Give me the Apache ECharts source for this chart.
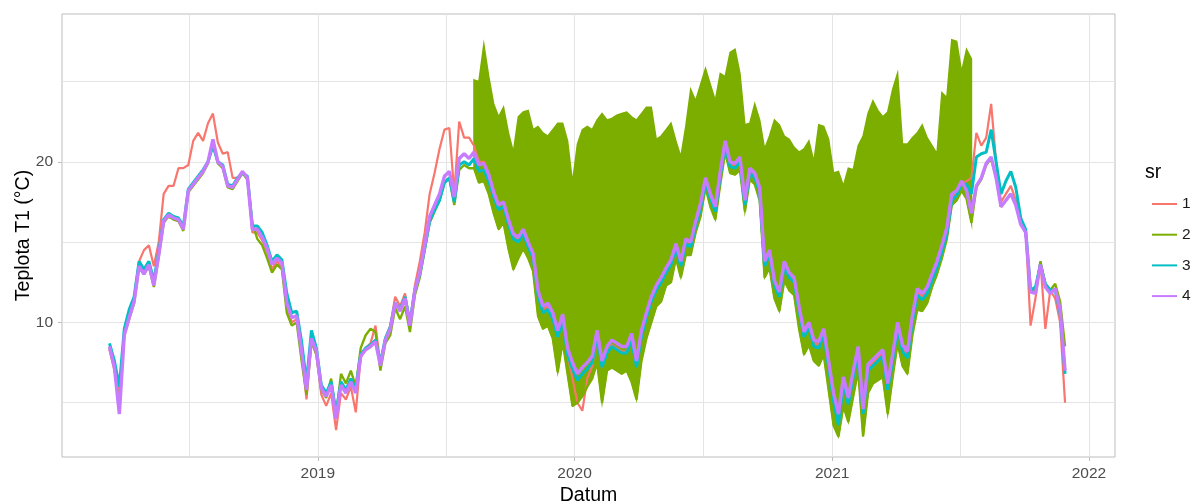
<!DOCTYPE html>
<html><head><meta charset="utf-8">
<script src="https://cdn.jsdelivr.net/npm/echarts@6/dist/echarts.min.js"></script>
<style>html,body{margin:0;padding:0;background:#fff}#c{width:1198px;height:504px}</style>
</head><body><div id="c"></div>
<script>
// weekly readings starting at this date
const startDate = '2018-03-11';
const stepDays = 7;

const s1 = [8.3,7.0,5.5,9.4,10.5,11.5,13.8,14.5,14.8,13.5,
15.0,18.0,18.5,18.5,19.6,19.6,19.8,21.3,21.8,21.3,
22.4,23.0,21.2,20.5,20.6,19.0,19.0,19.4,19.0,15.6,
15.6,15.1,14.4,13.3,13.8,13.4,11.0,10.0,10.2,8.0,
5.2,8.8,8.0,5.5,4.8,5.6,3.3,5.6,5.2,6.0,
4.4,7.8,8.4,8.7,9.8,7.4,9.0,9.8,11.6,11.0,
11.8,10.0,12.3,13.8,15.6,18.0,19.3,20.8,22.0,22.1,
18.0,22.5,21.5,21.5,21.0,20.0,20.0,19.3,18.2,17.4,
17.5,16.3,15.4,15.2,15.7,14.9,14.2,11.8,10.8,11.0,
10.3,9.2,10.2,8.0,6.5,5.0,4.5,6.5,7.3,9.0,
7.2,8.2,8.6,8.4,8.2,8.2,9.0,7.3,9.3,10.4,
11.5,12.2,12.7,13.3,13.8,14.8,13.7,15.1,14.9,16.2,
17.3,18.9,17.9,17.1,19.3,21.2,19.9,19.8,20.2,17.5,
19.5,19.2,18.3,13.7,14.4,12.5,11.8,13.7,12.9,12.6,
10.8,9.2,9.9,8.7,8.6,9.4,7.4,5.4,4.1,6.4,
5.1,6.8,8.3,4.4,7.2,7.5,7.8,8.1,6.0,7.8,
9.8,8.4,8.0,10.2,11.9,11.6,12.0,12.8,13.6,14.6,
15.7,17.8,18.0,18.6,18.8,19.0,21.8,21.0,21.5,23.6,
20.0,17.5,18.0,18.5,17.6,16.3,15.8,9.8,11.5,13.8,
9.6,12.0,11.5,10.0,5.0];

const s2 = [8.4,7.2,4.6,9.2,10.2,11.2,13.4,13.0,13.5,12.2,
14.1,16.2,16.6,16.4,16.3,15.7,18.1,18.5,18.9,19.3,
19.9,21.2,19.9,19.6,18.4,18.3,18.8,19.3,18.9,16.2,
15.2,14.8,14.0,13.1,13.6,13.3,10.6,9.8,10.0,7.6,
5.5,8.8,8.0,5.8,5.3,6.5,4.2,6.8,6.2,7.0,
6.0,8.4,9.2,9.6,9.4,7.0,8.7,9.2,10.9,10.2,
11.0,9.4,11.7,12.8,14.5,16.2,16.9,17.6,18.7,19.0,
17.3,19.5,19.8,19.6,19.6,18.7,18.8,18.0,16.8,15.8,
16.2,14.6,13.3,14.0,14.6,14.0,13.2,10.4,9.6,9.8,
9.0,6.9,8.8,6.8,4.8,5.0,5.4,6.0,6.5,7.5,
5.0,7.0,7.2,7.0,6.8,7.0,6.3,5.2,7.6,9.0,
10.0,11.0,11.3,12.3,12.5,14.0,12.8,14.2,14.2,15.6,
16.6,18.4,17.2,16.4,18.6,20.6,19.3,19.2,19.5,16.9,
18.9,18.6,17.6,12.8,13.4,11.5,10.7,12.6,12.0,11.7,
9.6,8.0,8.6,7.6,7.3,8.0,5.8,3.6,2.9,4.8,
3.8,5.4,7.0,2.9,5.6,6.2,6.4,6.6,4.3,6.6,
8.7,7.3,6.8,9.2,10.8,10.7,11.2,12.2,13.0,14.0,
15.2,17.3,17.6,18.2,17.7,16.2,18.4,18.9,19.8,20.2,
19.0,17.2,17.6,18.0,17.3,16.2,15.6,12.0,12.0,13.8,
12.4,12.0,12.4,11.3,8.5];

const s3 = [8.7,7.6,6.0,9.6,10.8,11.6,13.8,13.3,13.8,12.6,
14.4,16.4,16.8,16.6,16.5,16.0,18.3,18.7,19.1,19.5,
20.0,21.0,20.0,19.8,18.6,18.5,19.0,19.3,19.1,16.0,
16.0,15.6,14.8,13.8,14.2,13.9,11.8,10.6,10.7,8.8,
6.3,9.5,8.4,6.1,5.6,6.3,4.4,6.3,5.8,6.5,
5.9,8.0,8.4,8.6,8.9,7.5,9.0,9.7,11.2,10.8,
11.6,10.0,12.0,13.0,14.6,16.3,17.0,17.6,18.7,19.0,
17.5,19.8,20.0,19.8,20.2,19.4,19.5,18.8,17.8,17.0,
17.2,16.1,15.2,15.0,15.5,14.7,14.0,11.7,10.6,10.8,
10.2,9.1,10.1,8.0,7.1,6.4,6.8,7.1,7.5,9.1,
7.2,8.1,8.5,8.3,8.1,8.1,8.9,7.2,9.1,10.3,
11.3,12.0,12.5,13.1,13.6,14.6,13.5,14.9,14.7,16.0,
17.1,18.7,17.7,16.9,19.1,21.0,19.7,19.6,20.0,17.3,
19.3,19.0,18.1,13.5,14.2,12.3,11.6,13.5,12.8,12.5,
10.7,9.1,9.7,8.5,8.4,9.2,7.2,5.1,3.6,6.2,
4.9,6.6,8.1,4.3,7.0,7.3,7.6,7.9,5.8,7.6,
9.6,8.2,7.8,10.0,11.7,11.4,11.8,12.6,13.4,14.4,
15.5,17.6,17.9,18.6,18.6,18.0,20.3,20.5,20.6,22.0,
20.0,18.0,18.8,19.4,18.4,16.5,15.8,12.0,12.2,13.6,
12.4,12.0,12.0,10.6,6.8];

const s4 = [8.5,7.2,4.3,9.2,10.3,11.3,13.5,13.0,13.6,12.3,
14.2,16.3,16.7,16.5,16.4,15.8,18.2,18.6,19.0,19.4,
20.0,21.4,20.0,19.7,18.5,18.4,18.9,19.4,19.0,15.8,
15.8,15.3,14.6,13.6,14.0,13.7,11.2,10.3,10.4,8.2,
5.8,9.0,8.2,5.9,5.4,6.1,4.0,6.1,5.6,6.3,
5.6,7.9,8.3,8.5,8.8,7.3,8.9,9.6,11.2,10.7,
11.5,9.8,12.0,13.1,14.8,16.6,17.3,18.0,19.1,19.4,
17.8,20.2,20.5,20.2,20.6,19.8,19.9,19.2,18.1,17.3,
17.5,16.4,15.5,15.3,15.8,15.0,14.3,12.0,11.0,11.2,
10.6,9.5,10.5,8.4,7.5,6.8,7.2,7.5,7.9,9.5,
7.6,8.5,8.9,8.7,8.5,8.5,9.3,7.6,9.5,10.6,
11.6,12.3,12.8,13.4,13.9,14.9,13.8,15.2,15.0,16.3,
17.4,19.0,18.0,17.2,19.4,21.3,20.0,19.9,20.3,17.6,
19.6,19.3,18.4,13.8,14.5,12.6,11.9,13.8,13.1,12.8,
11.0,9.4,10.0,8.9,8.8,9.6,7.6,5.6,4.3,6.6,
5.3,7.0,8.5,4.6,7.4,7.7,8.0,8.3,6.2,8.0,
10.0,8.6,8.2,10.4,12.1,11.8,12.2,13.0,13.8,14.8,
15.9,18.0,18.2,18.8,18.2,16.8,18.5,19.0,19.9,20.3,
19.0,17.2,17.6,18.0,17.3,16.1,15.6,11.9,11.8,13.6,
12.2,11.8,12.1,10.8,7.0];

// series 2 daily maxima (upper envelope) during the oscillating period, from week index bandStart
const bandStart = 74;
const s2High = [25.1,25.0,27.3,25.3,23.6,22.8,
23.4,21.8,20.6,22.8,23.1,23.2,22.0,22.2,21.8,21.6,
22.0,22.4,22.4,21.3,18.7,21.1,22.0,22.2,22.0,22.6,
23.0,22.6,22.7,22.9,23.0,23.1,22.8,22.6,23.0,23.4,
23.4,21.4,21.6,22.0,22.4,21.3,20.3,22.2,24.5,23.8,
24.8,25.8,24.8,23.8,25.5,25.3,26.8,27.0,25.5,22.3,
22.4,23.6,22.6,20.8,21.6,22.6,22.3,21.6,21.4,20.9,
20.6,20.8,21.3,20.0,22.3,22.2,21.4,19.3,19.4,18.5,
19.6,19.5,21.0,21.6,23.0,23.8,23.2,22.8,23.1,24.5,
25.5,21.1,21.1,21.5,21.8,22.3,21.5,21.0,20.5,24.3,
24.0,27.6,27.5,25.6,27.0,26.4];

const seriesNames = ['1','2','3','4'];
const seriesColors = ['#F8766D','#7CAE00','#00BFC4','#C77CFF'];
const xMajorTicks = ['2019-01-01','2020-01-01','2021-01-01','2022-01-01'];
const xMinorTicks = ['2018-07-02','2019-07-02','2020-07-02','2021-07-02'];
const yMajorTicks = [10, 20];
const yMinorTicks = [5, 15, 25];

const DAY = 86400000;
const utc = s => Date.parse(s + 'T00:00:00Z');
const t0 = utc(startDate);
const dates = s4.map((_, i) => t0 + i * stepDays * DAY);
const pts = arr => arr.map((v, i) => [dates[i], v]);
const bandLow = s2High.map((h, k) => [dates[bandStart + k], s2[bandStart + k]]);
const bandHigh = s2High.map((h, k) => [dates[bandStart + k], h]);

const FF = 'Liberation Sans, Arial, sans-serif';
const xMin = Date.UTC(2018, 0, 2, 12), xMax = Date.UTC(2022, 1, 7);
const yMin = 1.62, yMax = 29.2;
const gridCol = '#e4e4e4';

const chart = echarts.init(document.getElementById('c'), null, {renderer: 'canvas'});
const lineSeries = (idx, data, width) => ({
  name: seriesNames[idx], type: 'line', data: data, showSymbol: false, symbol: 'none',
  color: seriesColors[idx], itemStyle: {color: seriesColors[idx]},
  lineStyle: {color: seriesColors[idx], width: width}, animation: false, silent: true
});
chart.setOption({
  animation: false,
  backgroundColor: '#ffffff',
  grid: {left: 62, right: 83, top: 14, bottom: 47, show: true, borderColor: '#bdbdbd', borderWidth: 1,
    backgroundColor: 'transparent', containLabel: false, outerBoundsMode: 'none'},
  title: {text: 'sr', left: 1145, top: 163, padding: 0,
    textStyle: {fontFamily: FF, fontSize: 19.5, fontWeight: 'normal', color: '#000'}},
  legend: {data: seriesNames, orient: 'vertical', left: 1147, top: 191, icon: 'rect',
    itemWidth: 25, itemHeight: 2, itemGap: 14.7, selectedMode: false,
    textStyle: {fontFamily: FF, fontSize: 15.5, color: '#1a1a1a', lineHeight: 16}},
  xAxis: [{
    type: 'value', min: xMin, max: xMax, scale: true,
    name: 'Datum', nameLocation: 'middle', nameGap: 29, nameMoveOverlap: false,
    nameTextStyle: {fontFamily: FF, fontSize: 19.5, color: '#000'},
    axisLine: {show: false},
    axisTick: {show: true, length: 4, lineStyle: {color: '#bdbdbd'}, customValues: xMajorTicks.map(utc)},
    axisLabel: {show: true, margin: 9, fontFamily: FF, fontSize: 15.5, color: '#4d4d4d',
      customValues: xMajorTicks.map(utc), formatter: v => String(new Date(v).getUTCFullYear())},
    splitLine: {show: true, lineStyle: {color: gridCol, width: 1}}
  }, {
    type: 'value', min: xMin, max: xMax, scale: true, position: 'bottom',
    axisLine: {show: false}, axisLabel: {show: false},
    axisTick: {show: false, customValues: xMinorTicks.map(utc)},
    splitLine: {show: true, lineStyle: {color: gridCol, width: 1}}
  }],
  yAxis: [{
    type: 'value', min: yMin, max: yMax,
    name: 'Teplota T1 (°C)', nameLocation: 'middle', nameGap: 28, nameMoveOverlap: false,
    nameTextStyle: {fontFamily: FF, fontSize: 19.5, color: '#000'},
    axisLine: {show: false},
    axisTick: {show: true, length: 4, lineStyle: {color: '#bdbdbd'}, customValues: yMajorTicks},
    axisLabel: {show: true, margin: 9, fontFamily: FF, fontSize: 15.5, color: '#4d4d4d', customValues: yMajorTicks},
    splitLine: {show: true, lineStyle: {color: gridCol, width: 1}}
  }, {
    type: 'value', min: yMin, max: yMax, position: 'left',
    axisLine: {show: false}, axisLabel: {show: false},
    axisTick: {show: false, customValues: yMinorTicks},
    splitLine: {show: true, lineStyle: {color: gridCol, width: 1}}
  }],
  series: [
    lineSeries(0, pts(s1), 2.2),
    {name: 'band', type: 'custom', data: [[dates[bandStart], s2[bandStart]]], silent: true, animation: false,
      clip: true,
      renderItem: function (params, api) {
        const top = bandHigh.map(p => api.coord(p));
        const bot = bandLow.map(p => api.coord(p)).reverse();
        return {type: 'polygon', shape: {points: top.concat(bot)},
          style: {fill: seriesColors[1], stroke: seriesColors[1], lineWidth: 1.5}};
      }},
    lineSeries(1, pts(s2), 2.4),
    lineSeries(2, pts(s3), 3),
    lineSeries(3, pts(s4), 3.4)
  ]
});
</script></body></html>
